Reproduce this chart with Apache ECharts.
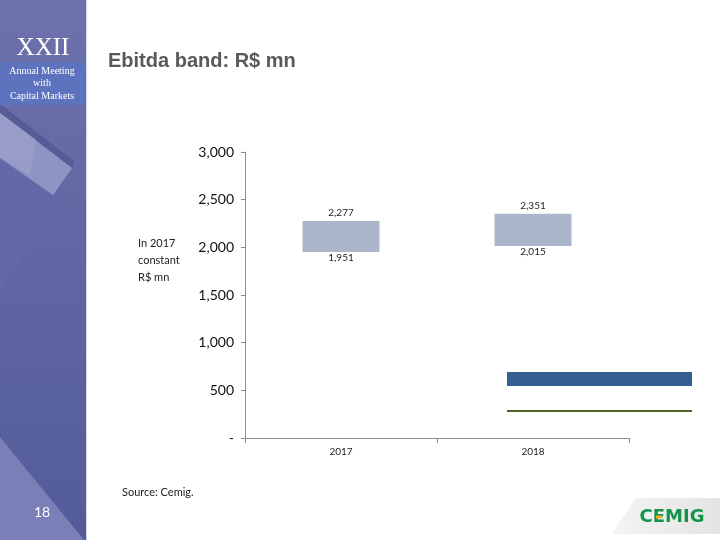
<!DOCTYPE html>
<html><head><meta charset="utf-8">
<script src="https://cdn.jsdelivr.net/npm/echarts@6/dist/echarts.min.js"></script>
<style>html,body{margin:0;padding:0;background:#fff}#c{width:720px;height:540px}</style>
</head><body><div id="c"></div>
<script>
const categories = ['2017', '2018'];
const bandLow = [1951, 2015];
const bandHigh = [2277, 2351];
const yTicks = [0, 500, 1000, 1500, 2000, 2500, 3000];

const bandSize = bandHigh.map((h, i) => h - bandLow[i]);
const fmt = v => v === 0 ? '-' : v.toLocaleString('en-US');

const chart = echarts.init(document.getElementById('c'), null, {renderer: 'canvas'});
const option = {
  backgroundColor: '#ffffff',
  animation: false,
  grid: {left: 245, right: 91, top: 152, bottom: 102},
  legend: [
    {data: ['Guidance'], left: 507, top: 372, orient: 'vertical', icon: 'rect',
     itemWidth: 185, itemHeight: 14, selectedMode: false, formatter: () => '', padding: 0,
     textStyle: {fontSize: 1}},
    {data: ['Reference'], left: 507, top: 410, orient: 'vertical', icon: 'rect',
     itemWidth: 185, itemHeight: 2, selectedMode: false, formatter: () => '', padding: 0,
     textStyle: {fontSize: 1}}
  ],
  xAxis: {
    type: 'category', data: categories, boundaryGap: true,
    axisLine: {lineStyle: {color: '#8c8c8c', width: 1}},
    axisTick: {show: true, length: 5, lineStyle: {color: '#8c8c8c'}},
    axisLabel: {fontFamily: 'Lato', fontSize: 10, color: '#222', margin: 9}
  },
  yAxis: {
    type: 'value', min: yTicks[0], max: yTicks[yTicks.length - 1], interval: 500,
    splitLine: {show: false},
    axisLine: {show: true, lineStyle: {color: '#8c8c8c', width: 1}},
    axisTick: {show: true, length: 4, lineStyle: {color: '#8c8c8c'}},
    axisLabel: {fontFamily: 'Lato', fontSize: 14, color: '#111', margin: 11, formatter: fmt}
  },
  series: [
    {name: 'Guidance', type: 'bar', stack: 'g', data: [], barWidth: 77, barGap: '-100%',
     itemStyle: {color: '#365F91'}},
    {name: 'Reference', type: 'line', data: [], itemStyle: {color: '#4F6228'}, lineStyle: {color: '#4F6228'}},
    {name: 'base', type: 'bar', stack: 'band', data: bandLow, barWidth: 77, barGap: '-100%',
     itemStyle: {color: 'rgba(0,0,0,0)'},
     label: {show: true, position: 'insideTop', distance: 1, fontFamily: 'Lato', fontSize: 10, color: '#222',
             formatter: p => fmt(bandLow[p.dataIndex])}},
    {name: 'band', type: 'bar', stack: 'band', data: bandSize, barWidth: 77, barGap: '-100%',
     itemStyle: {color: '#ABB6CB'},
     label: {show: true, position: 'top', distance: 3, fontFamily: 'Lato', fontSize: 10, color: '#222',
             formatter: p => fmt(bandHigh[p.dataIndex])}}
  ],
  graphic: [
    {type: 'rect', z: -10, shape: {x: 0, y: 0, width: 86, height: 540},
     style: {fill: {type: 'linear', x: 0, y: 0, x2: 0, y2: 1,
       colorStops: [{offset: 0, color: '#6d71ac'}, {offset: 1, color: '#535b9a'}]}}},
    {type: 'polygon', z: -9, shape: {points: [[0,158],[53,195],[62,200],[0,290]]}, style: {fill: '#6468a9'}},
    {type: 'polygon', z: -9, shape: {points: [[0,104],[74,161],[72,168],[0,113]]}, style: {fill: '#555b96'}},
    {type: 'polygon', z: -9, shape: {points: [[0,113],[72,168],[53,195],[0,158]]}, style: {fill: '#8f95c3'}},
    {type: 'polygon', z: -9, shape: {points: [[0,113],[36,140],[30,175],[0,158]]}, style: {fill: '#979dc8'}},
    {type: 'polygon', z: -9, shape: {points: [[0,437],[84,540],[0,540]]}, style: {fill: '#7b7fb8'}},
    {type: 'rect', z: -9, shape: {x: 0, y: 62, width: 85, height: 43}, style: {fill: '#5d73be'}},
    {type: 'line', z: -8, shape: {x1: 86.5, y1: 0, x2: 86.5, y2: 540}, style: {stroke: '#d4d6e8', lineWidth: 1}},
    {type: 'text', x: 43, y: 48, style: {text: 'XXII', fill: '#ffffff', font: '25px "Liberation Serif"', align: 'center', verticalAlign: 'middle'}},
    {type: 'text', x: 42, y: 71, style: {text: 'Annual Meeting', fill: '#ffffff', font: '10px "Liberation Serif"', align: 'center', verticalAlign: 'middle'}},
    {type: 'text', x: 42, y: 83.5, style: {text: 'with', fill: '#ffffff', font: '10px "Liberation Serif"', align: 'center', verticalAlign: 'middle'}},
    {type: 'text', x: 42, y: 96, style: {text: 'Capital Markets', fill: '#ffffff', font: '10px "Liberation Serif"', align: 'center', verticalAlign: 'middle'}},
    {type: 'text', x: 42, y: 512, style: {text: '18', fill: '#ffffff', font: '14px Lato', align: 'center', verticalAlign: 'middle'}},
    {type: 'text', x: 108, y: 61, style: {text: 'Ebitda band: R$ mn', fill: '#595959', font: 'bold 20px "Liberation Sans"', align: 'left', verticalAlign: 'middle'}},
    {type: 'text', x: 138, y: 243, style: {text: 'In 2017', fill: '#222', font: '11px Lato', verticalAlign: 'middle'}},
    {type: 'text', x: 138, y: 260, style: {text: 'constant', fill: '#222', font: '11px Lato', verticalAlign: 'middle'}},
    {type: 'text', x: 138, y: 277, style: {text: 'R$ mn', fill: '#222', font: '11px Lato', verticalAlign: 'middle'}},
    {type: 'text', x: 122, y: 492, style: {text: 'Source: Cemig.', fill: '#222', font: '11px Lato', verticalAlign: 'middle'}},
    {type: 'polygon', z: -9, shape: {points: [[636,498],[720,498],[720,534],[612,534]]},
     style: {fill: {type: 'linear', x: 0, y: 0, x2: 1, y2: 0,
       colorStops: [{offset: 0, color: '#f4f4f4'}, {offset: 1, color: '#e4e4e4'}]}}},
    {type: 'text', x: 672, y: 517, style: {text: 'CEMIG', fill: '#14934a', font: 'bold 18px "DejaVu Sans"', align: 'center', verticalAlign: 'middle'}},
    {type: 'rect', z: 20, shape: {x: 656, y: 515.5, width: 6, height: 3}, style: {fill: '#f2b01e'}}
  ]
};
chart.setOption(option);
</script>
</body></html>
